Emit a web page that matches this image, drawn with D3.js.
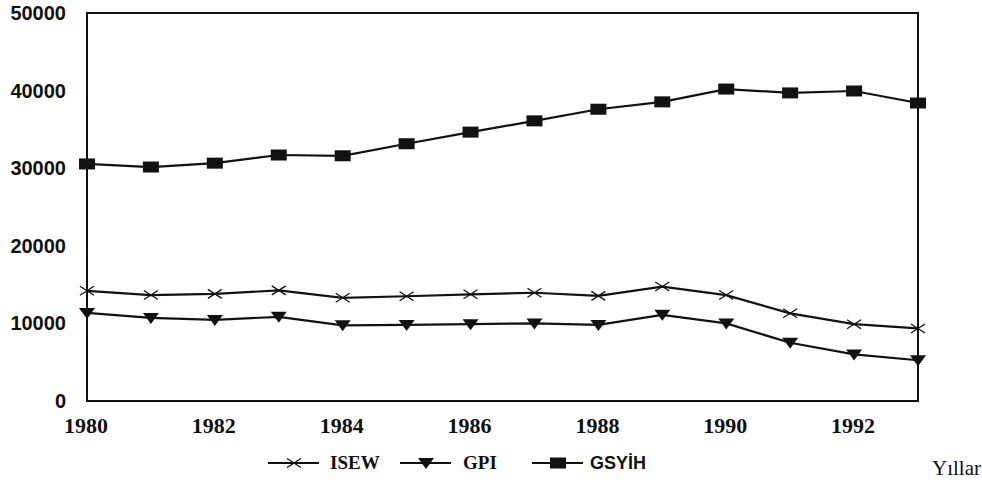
<!DOCTYPE html>
<html>
<head>
<meta charset="utf-8">
<script src="https://cdn.jsdelivr.net/npm/d3@7"></script>
<style>
  body { margin: 0; background: #fff; }
</style>
</head>
<body>
<div id="chart-area"></div>
<script>
const years = [1980, 1981, 1982, 1983, 1984, 1985, 1986, 1987, 1988, 1989, 1990, 1991, 1992, 1993]
const isew = [14200, 13650, 13800, 14250, 13300, 13500, 13750, 13950, 13550, 14750, 13650, 11300, 9900, 9350]
const gpi = [11350, 10700, 10450, 10850, 9750, 9800, 9900, 10000, 9800, 11100, 10000, 7500, 6000, 5250]
const gsyih = [30550, 30150, 30650, 31700, 31600, 33150, 34650, 36100, 37600, 38550, 40200, 39700, 39950, 38400]
const yTicks = [0, 10000, 20000, 30000, 40000, 50000]
const xTicks = [1980, 1982, 1984, 1986, 1988, 1990, 1992]

const MARGIN = { LEFT: 87, RIGHT: 64, TOP: 13, BOTTOM: 81 }
const WIDTH = 982 - MARGIN.LEFT - MARGIN.RIGHT
const HEIGHT = 482 - MARGIN.TOP - MARGIN.BOTTOM

const svg = d3.select("#chart-area").append("svg")
  .attr("width", 982)
  .attr("height", 482)

const g = svg.append("g")
  .attr("transform", `translate(${MARGIN.LEFT}, ${MARGIN.TOP})`)

const x = d3.scaleLinear().domain([1980, 1993]).range([0, WIDTH])
const y = d3.scaleLinear().domain([0, 50000]).range([HEIGHT, 0])

// frame
g.append("rect")
  .attr("width", WIDTH).attr("height", HEIGHT)
  .attr("fill", "none").attr("stroke", "#111").attr("stroke-width", 2)

// Y axis labels
const yAxis = g.append("g").call(d3.axisLeft(y).tickValues(yTicks).tickSize(0).tickPadding(21).tickFormat(d3.format("d")))
yAxis.select(".domain").remove()
yAxis.selectAll("text")
  .attr("font-family", "Liberation Sans, Arial, sans-serif")
  .attr("font-weight", "bold")
  .attr("font-size", "20px")
  .attr("fill", "#111")

// X axis labels
const xAxis = g.append("g").attr("transform", `translate(0, ${HEIGHT})`)
  .call(d3.axisBottom(x).tickValues(xTicks).tickSize(0).tickPadding(16).tickFormat(d3.format("d")))
xAxis.select(".domain").remove()
xAxis.selectAll("text")
  .attr("font-family", "Liberation Serif, Times New Roman, serif")
  .attr("font-weight", "bold")
  .attr("font-size", "22px")
  .attr("fill", "#111")
  .attr("dx", "-1.5")

const series = [
  { name: "ISEW", values: isew, marker: "x", font: "Liberation Serif, serif", size: 19 },
  { name: "GPI", values: gpi, marker: "tri", font: "Liberation Serif, serif", size: 19 },
  { name: "GSYİH", values: gsyih, marker: "sq", font: "Liberation Sans, Arial, sans-serif", size: 18 }
]

const line = d3.line().x((d, i) => x(years[i])).y(d => y(d))

function drawMarker(sel, type) {
  if (type === "sq") {
    sel.append("rect").attr("x", -8).attr("y", -5.5).attr("width", 16).attr("height", 11).attr("fill", "#111")
  } else if (type === "tri") {
    sel.append("path").attr("d", "M-8,-5 L8,-5 L0,6 Z").attr("fill", "#111")
  } else {
    sel.append("path").attr("d", "M-7,-4.5 L7,4.5 M-7,4.5 L7,-4.5").attr("stroke", "#111").attr("stroke-width", 1.3).attr("fill", "none")
  }
}

series.forEach(s => {
  g.append("path").datum(s.values)
    .attr("d", line)
    .attr("fill", "none").attr("stroke", "#111").attr("stroke-width", 2.2)
  g.selectAll(null).data(s.values).enter().append("g")
    .attr("transform", (d, i) => `translate(${x(years[i])}, ${y(d)})`)
    .each(function() { drawMarker(d3.select(this), s.marker) })
})

// Legend
const legendPos = [268, 400, 532]
const legendText = [330, 463, 590]
series.forEach((s, i) => {
  const lg = svg.append("g").attr("transform", `translate(${legendPos[i]}, 463)`)
  lg.append("line").attr("x1", 0).attr("x2", 51).attr("stroke", "#111").attr("stroke-width", 2)
  const m = lg.append("g").attr("transform", "translate(26, 0)")
  drawMarker(m, s.marker)
  svg.append("text").attr("x", legendText[i]).attr("y", 469)
    .attr("font-family", s.font).attr("font-weight", "bold").attr("font-size", s.size + "px")
    .attr("fill", "#111").text(s.name)
})

svg.append("text").attr("x", 932).attr("y", 475)
  .attr("font-family", "Liberation Serif, Times New Roman, serif")
  .attr("font-size", "21px").attr("fill", "#111").text("Yıllar")
</script>
</body>
</html>
